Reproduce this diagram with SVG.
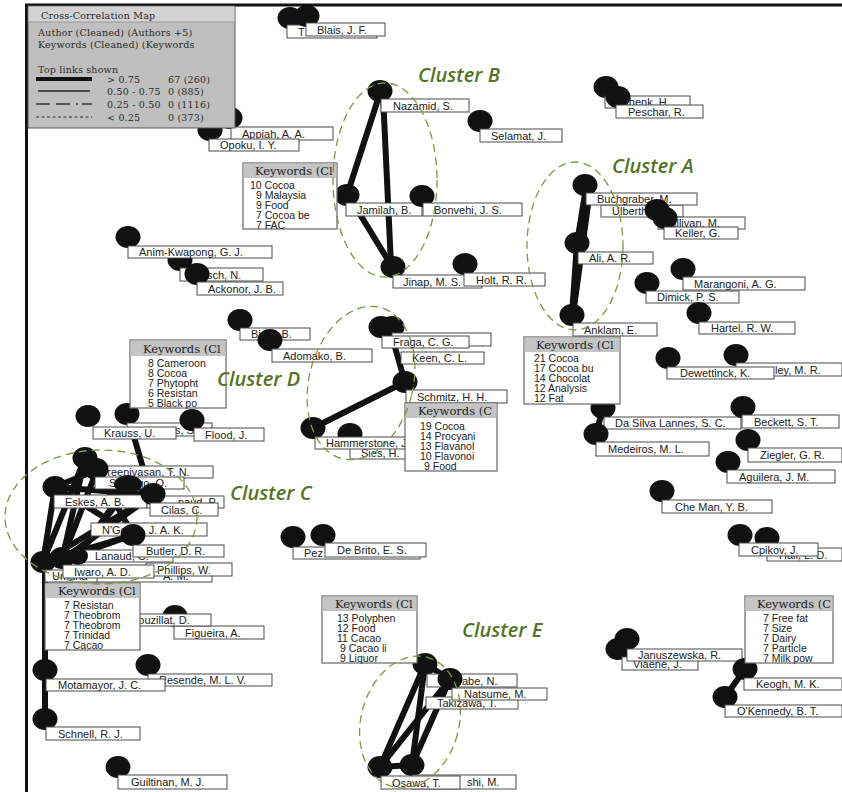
<svg xmlns="http://www.w3.org/2000/svg" width="842" height="792" viewBox="0 0 842 792">
<style>
  .n{fill:#111}
  .lb{fill:#fff;stroke:#4a4a4a;stroke-width:1}
  .lt{font-family:"Liberation Sans",Arial,sans-serif;font-size:11px;fill:#222}
  .e{stroke:#111;stroke-width:6;stroke-linecap:round;fill:none}
  .kb{fill:#fff;stroke:#666;stroke-width:1.2}
  .kh{fill:#c4c4c4}
  .kht{font-family:"DejaVu Serif",serif;font-size:11.5px;fill:#222}
  .ki{font-family:"Liberation Sans",Arial,sans-serif;font-size:10.5px;fill:#222}
  .cl{fill:none;stroke:#7b9a3c;stroke-width:1.3;stroke-dasharray:8 5}
  .ct{font-family:"Open Sans",sans-serif;font-style:italic;font-weight:600;font-size:20px;fill:#557327}
  .lg{font-family:"DejaVu Serif",serif;font-size:9.5px;letter-spacing:0.2px;fill:#2a2a2a}
</style>

<rect width="842" height="792" fill="#fff"/>

<!-- frame -->
<line x1="25" y1="5" x2="842" y2="5" stroke="#111" stroke-width="3"/>
<line x1="26.5" y1="4" x2="26.5" y2="792" stroke="#111" stroke-width="3"/>

<!-- links -->
<g id="connectors">
  <!-- cluster B -->
  <line class="e" x1="380" y1="93" x2="347" y2="195"/>
  <line class="e" x1="383" y1="95" x2="391" y2="265"/>
  <line class="e" x1="350" y1="198" x2="391" y2="265"/>
  <!-- cluster A -->
  <line class="e" x1="586" y1="188" x2="577" y2="243"/>
  <line class="e" x1="590" y1="190" x2="573" y2="315"/>
  <line class="e" x1="577" y1="243" x2="572" y2="315"/>
  <!-- cluster D -->
  <line class="e" x1="390" y1="330" x2="405" y2="382"/>
  <line class="e" x1="405" y1="382" x2="313" y2="428"/>
  <!-- cluster C -->
  <line class="e" x1="128" y1="416" x2="143" y2="468"/>
  <line class="e" x1="85" y1="458" x2="43" y2="562"/>
  <line class="e" x1="85" y1="458" x2="62" y2="560"/>
  <line class="e" x1="97" y1="470" x2="62" y2="560"/>
  <line class="e" x1="97" y1="470" x2="133" y2="535"/>
  <line class="e" x1="85" y1="458" x2="153" y2="495"/>
  <line class="e" x1="55" y1="487" x2="43" y2="562"/>
  <line class="e" x1="55" y1="487" x2="133" y2="535"/>
  <line class="e" x1="55" y1="487" x2="153" y2="495"/>
  <line class="e" x1="153" y1="495" x2="62" y2="560"/>
  <line class="e" x1="153" y1="495" x2="43" y2="562"/>
  <line class="e" x1="133" y1="535" x2="43" y2="562"/>
  <line class="e" x1="133" y1="535" x2="62" y2="560"/>
  <line class="e" x1="97" y1="470" x2="55" y2="487"/>
  <line class="e" x1="128" y1="484" x2="78" y2="556"/>
  <line class="e" x1="143" y1="468" x2="78" y2="556"/>
  <line class="e" x1="45" y1="565" x2="45" y2="670"/>
  <line class="e" x1="45" y1="670" x2="45" y2="719"/>
  <!-- cluster E -->
  <line class="e" x1="425" y1="664" x2="380" y2="767"/>
  <line class="e" x1="425" y1="664" x2="412" y2="765"/>
  <line class="e" x1="450" y1="679" x2="380" y2="767"/>
  <line class="e" x1="450" y1="679" x2="412" y2="765"/>
  <line class="e" x1="425" y1="664" x2="450" y2="679"/>
  <line class="e" x1="380" y1="767" x2="412" y2="765"/>
  <!-- right side pairs -->
  <line class="e" x1="603" y1="408" x2="596" y2="434"/>
  <line class="e" x1="745" y1="669" x2="725" y2="697"/>
</g>

<!-- author nodes -->
<g id="n-tan"><ellipse class="n" cx="290" cy="18" rx="12.5" ry="11"/><rect class="lb" x="287" y="25" width="90" height="13"/><text class="lt" x="298" y="35.5">T</text></g>
<g id="n-blais"><ellipse class="n" cx="307" cy="16" rx="12.5" ry="11"/><rect class="lb" x="306" y="23" width="79" height="13"/><text class="lt" x="317" y="33.5">Blais, J. F.</text></g>
<g id="n-appiah"><ellipse class="n" cx="230" cy="118" rx="12.5" ry="11"/><rect class="lb" x="231" y="127" width="102" height="13"/><text class="lt" x="242" y="137.5">Appiah, A. A.</text></g>
<g id="n-opoku"><ellipse class="n" cx="210" cy="130" rx="12.5" ry="11"/><rect class="lb" x="209" y="139" width="90" height="12"/><text class="lt" x="220" y="149">Opoku, I. Y.</text></g>
<g id="n-nazamid"><ellipse class="n" cx="380" cy="91" rx="12.5" ry="11"/><rect class="lb" x="381" y="99" width="88" height="13"/><text class="lt" x="393" y="109.5">Nazamid, S.</text></g>
<g id="n-selamat"><ellipse class="n" cx="480" cy="121" rx="12.5" ry="11"/><rect class="lb" x="480" y="129" width="82" height="13"/><text class="lt" x="491" y="139.5">Selamat, J.</text></g>
<g id="n-schenk"><ellipse class="n" cx="606" cy="87" rx="12.5" ry="11"/><rect class="lb" x="605" y="96" width="85" height="12"/><text class="lt" x="616" y="106">Schenk, H.</text></g>
<g id="n-peschar"><ellipse class="n" cx="618" cy="97" rx="12.5" ry="11"/><rect class="lb" x="616" y="105" width="87" height="13"/><text class="lt" x="628" y="115.5">Peschar, R.</text></g>
<g id="n-ulberth"><rect class="lb" x="601" y="205" width="82" height="12"/><text class="lt" x="612" y="215">Ulberth, F.</text></g>
<g id="n-buchgraber"><ellipse class="n" cx="585" cy="185" rx="12.5" ry="11"/><rect class="lb" x="586" y="193" width="111" height="12"/><text class="lt" x="597" y="203">Buchgraber, M.</text></g>
<g id="n-sullivan"><ellipse class="n" cx="657" cy="210" rx="12.5" ry="11"/><rect class="lb" x="658" y="217" width="87" height="12"/><text class="lt" x="663" y="227">Sullivan, M.</text></g>
<g id="n-keller"><ellipse class="n" cx="665" cy="218" rx="12.5" ry="11"/><rect class="lb" x="664" y="227" width="74" height="12"/><text class="lt" x="675" y="237">Keller, G.</text></g>
<g id="n-ali"><ellipse class="n" cx="577" cy="243" rx="12.5" ry="11"/><rect class="lb" x="578" y="252" width="75" height="12"/><text class="lt" x="589" y="262">Ali, A. R.</text></g>
<g id="n-marangoni"><ellipse class="n" cx="683" cy="269" rx="12.5" ry="11"/><rect class="lb" x="683" y="277" width="122" height="13"/><text class="lt" x="694" y="287.5">Marangoni, A. G.</text></g>
<g id="n-dimick"><ellipse class="n" cx="647" cy="283" rx="12.5" ry="11"/><rect class="lb" x="646" y="291" width="93" height="12"/><text class="lt" x="657" y="301">Dimick, P. S.</text></g>
<g id="n-anklam"><ellipse class="n" cx="572" cy="315" rx="12.5" ry="11"/><rect class="lb" x="573" y="323" width="84" height="13"/><text class="lt" x="584" y="333.5">Anklam, E.</text></g>
<g id="n-hartel"><ellipse class="n" cx="699" cy="313" rx="12.5" ry="11"/><rect class="lb" x="699" y="322" width="96" height="12"/><text class="lt" x="711" y="332">Hartel, R. W.</text></g>
<g id="n-whitley"><ellipse class="n" cx="736" cy="355" rx="12.5" ry="11"/><rect class="lb" x="736" y="363" width="106" height="13"/><text class="lt" x="775" y="373.5">ley, M. R.</text></g>
<g id="n-dewettinck"><ellipse class="n" cx="668" cy="358" rx="12.5" ry="11"/><rect class="lb" x="667" y="367" width="107" height="12"/><text class="lt" x="680" y="377">Dewettinck, K.</text></g>
<g id="n-jamilah"><ellipse class="n" cx="347" cy="195" rx="12.5" ry="11"/><rect class="lb" x="346" y="203" width="76" height="13"/><text class="lt" x="357" y="213.5">Jamilah, B.</text></g>
<g id="n-bonvehi"><ellipse class="n" cx="422" cy="196" rx="12.5" ry="11"/><rect class="lb" x="423" y="203" width="99" height="13"/><text class="lt" x="434" y="213.5">Bonvehi, J. S.</text></g>
<g id="n-jinap"><ellipse class="n" cx="393" cy="267" rx="12.5" ry="11"/><rect class="lb" x="393" y="275" width="89" height="13"/><text class="lt" x="403" y="285.5">Jinap, M. S.</text></g>
<g id="n-holt"><ellipse class="n" cx="465" cy="264" rx="12.5" ry="11"/><rect class="lb" x="464" y="273" width="81" height="13"/><text class="lt" x="476" y="283.5">Holt, R. R.</text></g>
<g id="n-sch"><ellipse class="n" cx="180" cy="260" rx="12.5" ry="11"/><rect class="lb" x="180" y="268" width="83" height="13"/><text class="lt" x="207" y="278.5">sch, N.</text></g>
<g id="n-anim"><ellipse class="n" cx="128" cy="237" rx="12.5" ry="11"/><rect class="lb" x="128" y="246" width="144" height="12"/><text class="lt" x="139" y="256">Anim-Kwapong, G. J.</text></g>
<g id="n-ackonor"><ellipse class="n" cx="197" cy="274" rx="12.5" ry="11"/><rect class="lb" x="197" y="282" width="86" height="13"/><text class="lt" x="208" y="292.5">Ackonor, J. B.</text></g>
<g id="n-biehl"><ellipse class="n" cx="240" cy="320" rx="12.5" ry="11"/><rect class="lb" x="240" y="328" width="70" height="12"/><text class="lt" x="251" y="338">Biehl, B.</text></g>
<g id="n-adomako"><ellipse class="n" cx="270" cy="340" rx="12.5" ry="11"/><rect class="lb" x="272" y="349" width="100" height="13"/><text class="lt" x="283" y="359.5">Adomako, B.</text></g>
<g id="n-fraga2"><ellipse class="n" cx="392" cy="327" rx="12.5" ry="11"/><rect class="lb" x="392" y="333" width="99" height="13"/></g>
<g id="n-fraga"><ellipse class="n" cx="381" cy="327" rx="12.5" ry="11"/><rect class="lb" x="382" y="336" width="87" height="12"/><text class="lt" x="393" y="346">Fraga, C. G.</text></g>
<g id="n-keen"><rect class="lb" x="401" y="352" width="83" height="12"/><text class="lt" x="412" y="362">Keen, C. L.</text></g>
<g id="n-schmitz"><ellipse class="n" cx="405" cy="382" rx="12.5" ry="11"/><rect class="lb" x="406" y="390" width="101" height="13"/><text class="lt" x="417" y="400.5">Schmitz, H. H.</text></g>
<g id="n-sies"><ellipse class="n" cx="350" cy="434" rx="12.5" ry="11"/><rect class="lb" x="350" y="447" width="60" height="12"/><text class="lt" x="361" y="457">Sies, H.</text></g>
<g id="n-hammerstone"><ellipse class="n" cx="313" cy="428" rx="12.5" ry="11"/><rect class="lb" x="315" y="437" width="100" height="12"/><text class="lt" x="326" y="447">Hammerstone, J. F.</text></g>
<g id="n-s"><ellipse class="n" cx="127" cy="414" rx="12.5" ry="11"/><rect class="lb" x="127" y="423" width="85" height="13"/><text class="lt" x="175" y="433.5">s, S.</text></g>
<g id="n-krauss"><ellipse class="n" cx="88" cy="416" rx="12.5" ry="11"/><rect class="lb" x="93" y="427" width="83" height="12"/><text class="lt" x="104" y="437">Krauss, U.</text></g>
<g id="n-flood"><ellipse class="n" cx="192" cy="420" rx="12.5" ry="11"/><rect class="lb" x="194" y="428" width="70" height="13"/><text class="lt" x="205" y="438.5">Flood, J.</text></g>
<g id="n-sreenivasan"><rect class="lb" x="92" y="466" width="121" height="12"/><text class="lt" x="100" y="476">Sreenivasan, T. N.</text></g>
<g id="n-top"><ellipse class="n" cx="85" cy="458" rx="12.5" ry="11"/><ellipse class="n" cx="96" cy="469" rx="12.5" ry="11"/></g>
<g id="n-sounigo"><rect class="lb" x="95" y="477" width="89" height="12"/><text class="lt" x="109" y="487">Sounigo, O.</text></g>
<g id="n-mid"><ellipse class="n" cx="128" cy="484" rx="14" ry="9"/></g>
<g id="n-eskes"><ellipse class="n" cx="55" cy="487" rx="12.5" ry="11"/><rect class="lb" x="54" y="495" width="93" height="13"/><text class="lt" x="65" y="505.5">Eskes, A. B.</text></g>
<g id="n-naud"><rect class="lb" x="147" y="496" width="77" height="12"/><text class="lt" x="178" y="506">naud, P.</text></g>
<g id="n-cilas"><ellipse class="n" cx="153" cy="494" rx="12.5" ry="11"/><rect class="lb" x="150" y="503" width="68" height="13"/><text class="lt" x="161" y="513.5">Cilas, C.</text></g>
<g id="n-ngoran"><rect class="lb" x="91" y="523" width="116" height="13"/><text class="lt" x="102" y="533.5">N'Goran, J. A. K.</text></g>
<g id="n-lanaud"><rect class="lb" x="83" y="550" width="90" height="12"/><text class="lt" x="95" y="560">Lanaud, C.</text></g>
<g id="n-butler"><ellipse class="n" cx="133" cy="535" rx="12.5" ry="11"/><rect class="lb" x="133" y="545" width="91" height="12"/><text class="lt" x="146" y="555">Butler, D. R.</text></g>
<g id="n-am"><rect class="lb" x="95" y="570" width="117" height="12"/><text class="lt" x="163" y="580">A. M.</text></g>
<g id="n-phillips"><rect class="lb" x="146" y="563" width="86" height="13"/><text class="lt" x="157" y="573.5">Phillips, W.</text></g>
<g id="n-umaharan"><ellipse class="n" cx="43" cy="562" rx="12.5" ry="11"/><rect class="lb" x="45" y="570" width="52" height="12"/><text class="lt" x="52" y="580">Umaha</text></g>
<g id="n-iwaro"><ellipse class="n" cx="62" cy="558" rx="12.5" ry="11"/><ellipse class="n" cx="78" cy="556" rx="10" ry="9"/><rect class="lb" x="63" y="565" width="91" height="13"/><text class="lt" x="74" y="575.5">Iwaro, A. D.</text></g>
<g id="n-figueira"><ellipse class="n" cx="175" cy="616" rx="12.5" ry="11"/><rect class="lb" x="174" y="626" width="90" height="13"/><text class="lt" x="185" y="636.5">Figueira, A.</text></g>
<g id="n-pouzillat"><rect class="lb" x="120" y="614" width="91" height="12"/><text class="lt" x="131" y="624">Pouzillat, D.</text></g>
<g id="n-resende"><ellipse class="n" cx="148" cy="665" rx="12.5" ry="11"/><rect class="lb" x="148" y="674" width="124" height="12"/><text class="lt" x="159" y="684">Resende, M. L. V.</text></g>
<g id="n-motamayor"><ellipse class="n" cx="45" cy="670" rx="12.5" ry="11"/><rect class="lb" x="46" y="679" width="119" height="12"/><text class="lt" x="58" y="689">Motamayor, J. C.</text></g>
<g id="n-schnell"><ellipse class="n" cx="45" cy="719" rx="12.5" ry="11"/><rect class="lb" x="46" y="727" width="94" height="13"/><text class="lt" x="58" y="737.5">Schnell, R. J.</text></g>
<g id="n-guiltinan"><ellipse class="n" cx="118" cy="767" rx="12.5" ry="11"/><rect class="lb" x="118" y="775" width="109" height="14"/><text class="lt" x="131" y="786">Guiltinan, M. J.</text></g>
<g id="n-pez"><ellipse class="n" cx="293" cy="537" rx="12.5" ry="11"/><rect class="lb" x="293" y="547" width="127" height="12"/><text class="lt" x="304" y="557">Pez</text></g>
<g id="n-debrito"><ellipse class="n" cx="323" cy="535" rx="12.5" ry="11"/><rect class="lb" x="325" y="543" width="101" height="14"/><text class="lt" x="337" y="554">De Brito, E. S.</text></g>
<g id="n-takizawa"><rect class="lb" x="426" y="697" width="92" height="12"/><text class="lt" x="437" y="707">Takizawa, T.</text></g>
<g id="n-top-e"><ellipse class="n" cx="425" cy="664" rx="12.5" ry="11"/></g>
<g id="n-watanabe"><rect class="lb" x="427" y="674" width="90" height="13"/><ellipse class="n" cx="450" cy="679" rx="12.5" ry="11"/><text class="lt" x="462" y="684.5">abe, N.</text></g>
<g id="n-natsume"><rect class="lb" x="452" y="688" width="95" height="12"/><text class="lt" x="464" y="698">Natsume, M.</text></g>
<g id="n-ohashi"><ellipse class="n" cx="412" cy="765" rx="12.5" ry="11"/><rect class="lb" x="412" y="775" width="104" height="14"/><text class="lt" x="467" y="786">shi, M.</text></g>
<g id="n-osawa"><ellipse class="n" cx="380" cy="767" rx="12.5" ry="11"/><rect class="lb" x="381" y="776" width="79" height="13"/><text class="lt" x="392" y="786.5">Osawa, T.</text></g>
<g id="n-dasilva"><ellipse class="n" cx="603" cy="408" rx="12.5" ry="11"/><rect class="lb" x="604" y="417" width="137" height="12"/><text class="lt" x="615" y="427">Da Silva Lannes, S. C.</text></g>
<g id="n-medeiros"><ellipse class="n" cx="596" cy="434" rx="12.5" ry="11"/><rect class="lb" x="596" y="442" width="113" height="14"/><text class="lt" x="608" y="453">Medeiros, M. L.</text></g>
<g id="n-beckett"><ellipse class="n" cx="743" cy="407" rx="12.5" ry="11"/><rect class="lb" x="742" y="415" width="97" height="13"/><text class="lt" x="754" y="425.5">Beckett, S. T.</text></g>
<g id="n-ziegler"><ellipse class="n" cx="748" cy="440" rx="12.5" ry="11"/><rect class="lb" x="748" y="448" width="94" height="14"/><text class="lt" x="760" y="459">Ziegler, G. R.</text></g>
<g id="n-aguilera"><ellipse class="n" cx="728" cy="462" rx="12.5" ry="11"/><rect class="lb" x="727" y="470" width="108" height="13"/><text class="lt" x="739" y="480.5">Aguilera, J. M.</text></g>
<g id="n-cheman"><ellipse class="n" cx="662" cy="491" rx="12.5" ry="11"/><rect class="lb" x="662" y="500" width="110" height="13"/><text class="lt" x="675" y="510.5">Che Man, Y. B.</text></g>
<g id="n-hall"><ellipse class="n" cx="767" cy="538" rx="12.5" ry="11"/><rect class="lb" x="767" y="548" width="75" height="13"/><text class="lt" x="779" y="558.5">Hall, L. D.</text></g>
<g id="n-cpikov"><ellipse class="n" cx="740" cy="535" rx="12.5" ry="11"/><rect class="lb" x="739" y="543" width="79" height="13"/><text class="lt" x="751" y="553.5">Cpikov, J.</text></g>
<g id="n-viaene"><ellipse class="n" cx="618" cy="649" rx="12.5" ry="11"/><rect class="lb" x="622" y="657" width="76" height="13"/><text class="lt" x="633" y="667.5">Viaene, J.</text></g>
<g id="n-januszewska"><ellipse class="n" cx="627" cy="639" rx="12.5" ry="11"/><rect class="lb" x="627" y="649" width="115" height="12"/><text class="lt" x="638" y="659">Januszewska, R.</text></g>
<g id="n-keogh"><ellipse class="n" cx="745" cy="669" rx="12.5" ry="11"/><rect class="lb" x="744" y="678" width="98" height="12"/><text class="lt" x="756" y="688">Keogh, M. K.</text></g>
<g id="n-okennedy"><ellipse class="n" cx="725" cy="697" rx="12.5" ry="11"/><rect class="lb" x="725" y="705" width="117" height="12"/><text class="lt" x="737" y="715">O'Kennedy, B. T.</text></g>

<!-- keyword panels -->
<g id="kw-b"><rect class="kb" x="243" y="163" width="94" height="66"/><rect class="kh" x="243.6" y="163.6" width="92.8" height="14.4"/><text class="kht" x="255" y="174.5">Keywords (Cl</text>
  <text class="ki" x="250" y="189">10 Cocoa</text><text class="ki" x="256" y="199">9 Malaysia</text><text class="ki" x="256" y="209">9 Food</text><text class="ki" x="256" y="219">7 Cocoa be</text><text class="ki" x="256" y="229">7 FAC</text></g>
<g id="kw-a"><rect class="kb" x="524" y="337" width="96" height="67"/><rect class="kh" x="524.6" y="337.6" width="94.8" height="14.4"/><text class="kht" x="536" y="348.5">Keywords (Cl</text>
  <text class="ki" x="534" y="362">21 Cocoa</text><text class="ki" x="534" y="372">17 Cocoa bu</text><text class="ki" x="534" y="382">14 Chocolat</text><text class="ki" x="534" y="392">12 Analysis</text><text class="ki" x="534" y="402">12 Fat</text></g>
<g id="kw-d1"><rect class="kb" x="130" y="340" width="96" height="68"/><rect class="kh" x="130.6" y="340.6" width="94.8" height="15.4"/><text class="kht" x="143" y="352.5">Keywords (Cl</text>
  <text class="ki" x="148" y="367">8 Cameroon</text><text class="ki" x="148" y="377">8 Cocoa</text><text class="ki" x="148" y="387">7 Phytopht</text><text class="ki" x="148" y="397">6 Resistan</text><text class="ki" x="148" y="407">5 Black po</text></g>
<g id="kw-d2"><rect class="kb" x="405" y="403" width="92" height="68"/><rect class="kh" x="405.6" y="403.6" width="90.8" height="14.4"/><text class="kht" x="418" y="414.5">Keywords (C</text>
  <text class="ki" x="420" y="430">19 Cocoa</text><text class="ki" x="420" y="440">14 Procyani</text><text class="ki" x="420" y="450">13 Flavanol</text><text class="ki" x="420" y="460">10 Flavonoi</text><text class="ki" x="424" y="470">9 Food</text></g>
<g id="kw-c"><rect class="kb" x="45" y="583" width="95" height="67"/><rect class="kh" x="45.6" y="583.6" width="93.8" height="14.4"/><text class="kht" x="58" y="594.5">Keywords (Cl</text>
  <text class="ki" x="64" y="609">7 Resistan</text><text class="ki" x="64" y="619">7 Theobrom</text><text class="ki" x="64" y="629">7 Theobrom</text><text class="ki" x="64" y="639">7 Trinidad</text><text class="ki" x="64" y="649">7 Cacao</text></g>
<g id="kw-e"><rect class="kb" x="322" y="596" width="95" height="67"/><rect class="kh" x="322.6" y="596.6" width="93.8" height="14.4"/><text class="kht" x="335" y="607.5">Keywords (Cl</text>
  <text class="ki" x="337" y="622">13 Polyphen</text><text class="ki" x="337" y="632">12 Food</text><text class="ki" x="337" y="642">11 Cacao</text><text class="ki" x="340" y="652">9 Cacao li</text><text class="ki" x="340" y="662">9 Liquor</text></g>
<g id="kw-r"><rect class="kb" x="745" y="596" width="88" height="67"/><rect class="kh" x="745.6" y="596.6" width="86.8" height="14.4"/><text class="kht" x="757" y="607.5">Keywords (C</text>
  <text class="ki" x="763" y="622">7 Free fat</text><text class="ki" x="763" y="632">7 Size</text><text class="ki" x="763" y="642">7 Dairy</text><text class="ki" x="763" y="652">7 Particle</text><text class="ki" x="763" y="662">7 Milk pow</text></g>

<!-- cluster outlines and captions -->
<g id="clusters">
  <ellipse class="cl" cx="385" cy="180" rx="52" ry="97"/>
  <ellipse class="cl" cx="575" cy="246" rx="48" ry="84"/>
  <ellipse class="cl" cx="0" cy="0" rx="52" ry="78" transform="translate(361 383) rotate(14)"/>
  <ellipse class="cl" cx="101" cy="517" rx="96" ry="67"/>
  <ellipse class="cl" cx="0" cy="0" rx="49" ry="67" transform="translate(410 722) rotate(15)"/>
  <text class="ct" x="418" y="82">Cluster B</text>
  <text class="ct" x="612" y="173">Cluster A</text>
  <text class="ct" x="217" y="386">Cluster D</text>
  <text class="ct" x="230" y="500">Cluster C</text>
  <text class="ct" x="462" y="637">Cluster E</text>
</g>

<!-- legend panel -->
<g id="legend">
  <rect x="28" y="6" width="207" height="122" fill="#bfbfbf" stroke="#555" stroke-width="1"/>
  <rect x="28.5" y="6.5" width="206" height="15.5" fill="#d2d2d2"/>
  <line x1="28" y1="22" x2="235" y2="22" stroke="#9a9a9a" stroke-width="1"/>
  <text class="lg" x="41" y="18.5">Cross-Correlation Map</text>
  <text class="lg" x="38" y="35.5">Author (Cleaned) (Authors +5)</text>
  <text class="lg" x="38" y="47.5">Keywords (Cleaned) (Keywords</text>
  <text class="lg" x="38" y="72.5">Top links shown</text>
  <line x1="36" y1="79" x2="92" y2="79" stroke="#111" stroke-width="4"/>
  <line x1="38" y1="91" x2="90" y2="91" stroke="#222" stroke-width="1.5"/>
  <line x1="36" y1="104" x2="92" y2="104" stroke="#333" stroke-width="1.3" stroke-dasharray="14 6 14 6 2 4"/>
  <line x1="36" y1="117" x2="92" y2="117" stroke="#333" stroke-width="1" stroke-dasharray="3 2.5"/>
  <text class="lg" x="107" y="82.5">&gt; 0.75</text><text class="lg" x="168" y="82.5">67 (260)</text>
  <text class="lg" x="107" y="94.5">0.50 - 0.75</text><text class="lg" x="168" y="94.5">0 (885)</text>
  <text class="lg" x="107" y="107.5">0.25 - 0.50</text><text class="lg" x="168" y="107.5">0 (1116)</text>
  <text class="lg" x="107" y="120.5">&lt; 0.25</text><text class="lg" x="168" y="120.5">0 (373)</text>
</g>
</svg>
